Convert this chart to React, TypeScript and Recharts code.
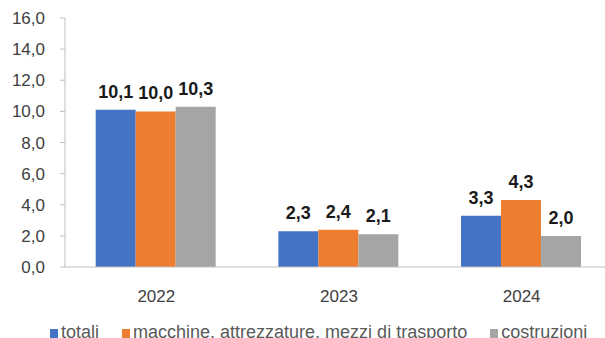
import { BarChart, Bar, XAxis, YAxis, LabelList } from 'recharts';

const years = ['2022', '2023', '2024'];
const totali = [10.1, 2.3, 3.3];
const macchine = [10.0, 2.4, 4.3];
const costruzioni = [10.3, 2.1, 2.0];
const yTicks = [0, 2, 4, 6, 8, 10, 12, 14, 16];

const series = [
  { key: 'totali', name: 'totali', color: '#4472C4' },
  { key: 'macchine', name: 'macchine, attrezzature, mezzi di trasporto', color: '#ED7D31' },
  { key: 'costruzioni', name: 'costruzioni', color: '#A5A5A5' },
];

const data = years.map((y, i) => ({
  year: y,
  totali: totali[i],
  macchine: macchine[i],
  costruzioni: costruzioni[i],
}));

const comma = (v: any) => Number(v).toFixed(1).replace('.', ',');
const FONT = '"Liberation Sans", Arial, sans-serif';

export default function App() {
  return (
    <div style={{ position: 'absolute', top: 0, left: 0, width: 605, height: 338, overflow: 'hidden', background: '#fff', fontFamily: FONT }}>
      <BarChart
        width={620}
        height={338}
        data={data}
        margin={{ top: 18, right: 7, left: 0, bottom: 38 }}
        barCategoryGap="16.8%"
        barGap={0}
      >
        <XAxis
          xAxisId="edges"
          type="number"
          domain={[0, 3]}
          ticks={[0, 1, 2, 3]}
          height={0}
          axisLine={false}
          tick={false}
          tickLine={{ stroke: '#bfbfbf' }}
          tickSize={6}
        />
        <XAxis
          dataKey="year"
          height={33}
          axisLine={{ stroke: '#bfbfbf' }}
          tickLine={false}
          tickMargin={17}
          tick={{ fontSize: 17, fill: '#404040', fontFamily: FONT }}
        />
        <YAxis
          width={65}
          domain={[0, 16]}
          ticks={yTicks}
          interval={0}
          tickFormatter={comma}
          axisLine={{ stroke: '#bfbfbf' }}
          tickLine={{ stroke: '#bfbfbf' }}
          tickSize={5}
          tickMargin={15}
          tick={{ fontSize: 17, fill: '#404040', fontFamily: FONT }}
        />
        {series.map(s => (
          <Bar key={s.key} dataKey={s.key} name={s.name} fill={s.color} isAnimationActive={false}>
            <LabelList
              dataKey={s.key}
              position="top"
              offset={12}
              formatter={comma}
              style={{ fontSize: 18, fontWeight: 'bold', fill: '#1a1a1a', fontFamily: FONT }}
            />
          </Bar>
        ))}
      </BarChart>
      <div style={{ position: 'absolute', top: 322, left: 50, display: 'flex', gap: 23, fontSize: 18, color: '#595959', whiteSpace: 'nowrap' }}>
        {series.map(s => (
          <span key={s.key}>
            <span style={{ display: 'inline-block', width: 8, height: 9, background: s.color, marginRight: 3 }} />
            {s.name}
          </span>
        ))}
      </div>
    </div>
  );
}
